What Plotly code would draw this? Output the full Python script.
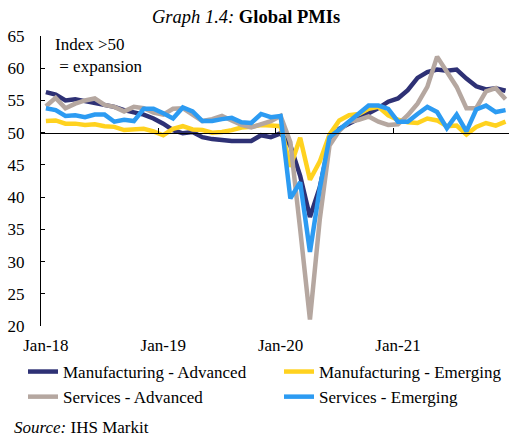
import plotly.graph_objects as go

years = ["18", "19", "20", "21"]
month_names = ["Jan", "Feb", "Mar", "Apr", "May", "Jun", "Jul", "Aug", "Sep", "Oct", "Nov", "Dec"]
months = [f"{m}-{y}" for y in years for m in month_names]
tick_labels = ["Jan-18", "Jan-19", "Jan-20", "Jan-21"]
y_ticks = [20, 25, 30, 35, 40, 45, 50, 55, 60, 65]
year_boundaries = [11.5, 23.5, 35.5]

manuf_adv = [56.3, 55.9, 55.0, 55.2, 54.9, 54.6, 54.3, 54.0, 53.5, 53.2, 52.8, 52.2,
             51.4, 50.4, 49.9, 50.1, 49.3, 49.0, 48.8, 48.7, 48.7, 48.7, 49.6, 49.3,
             49.9, 48.0, 43.3, 36.9, 41.5, 48.5, 50.6, 51.5, 52.2, 53.0, 53.8, 54.8,
             55.3, 56.6, 58.5, 59.4, 59.8, 59.6, 59.8, 58.4, 57.2, 56.7, 56.9, 56.5]
manuf_em = [51.8, 51.9, 51.4, 51.4, 51.2, 51.3, 51.0, 50.9, 50.4, 50.5, 50.6, 50.2,
            49.6, 50.6, 51.0, 50.5, 50.4, 50.0, 50.1, 50.4, 50.8, 50.9, 51.2, 51.1,
            51.0, 44.7, 49.2, 42.7, 45.5, 49.7, 51.9, 52.7, 52.9, 53.7, 54.0, 52.7,
            52.0, 51.6, 51.5, 52.2, 51.9, 51.0, 51.1, 49.7, 50.9, 51.5, 51.1, 51.7]
serv_adv = [54.1, 55.4, 53.8, 54.5, 55.0, 55.3, 54.3, 54.0, 53.3, 54.0, 53.8, 53.1,
            52.8, 53.7, 53.8, 52.7, 51.8, 52.1, 52.6, 51.9, 51.2, 50.8, 51.3, 51.8,
            52.6, 48.5, 35.0, 21.0, 36.5, 48.0, 50.3, 51.7, 52.0, 52.5, 51.7, 51.2,
            51.3, 52.7, 54.5, 57.1, 61.8, 59.4, 57.1, 53.8, 53.8, 56.4, 56.9, 55.2]
serv_em = [53.8, 53.5, 52.6, 52.7, 52.4, 52.8, 52.8, 51.7, 52.0, 51.8, 53.7, 53.7,
           53.0, 52.2, 53.9, 53.3, 51.8, 51.8, 52.1, 52.3, 51.6, 51.5, 52.9, 52.4,
           52.6, 39.8, 42.3, 31.5, 41.3, 49.3, 50.5, 51.7, 53.1, 54.2, 54.2, 53.7,
           51.7, 51.7, 52.9, 54.0, 53.2, 50.7, 52.8, 50.2, 53.6, 54.2, 53.2, 53.5]

# (name, values, colour, legend column)
series = [
    ("Manufacturing - Advanced", manuf_adv, "#2E3175", "legend"),
    ("Manufacturing - Emerging", manuf_em, "#FFD21F", "legend2"),
    ("Services - Advanced", serv_adv, "#B5A7A0", "legend"),
    ("Services - Emerging", serv_em, "#2C9BF2", "legend2"),
]

FONT = "Liberation Serif"
FS = 17
W, H = 509, 436
ML, MR, MT, MB = 41, 0, 36, 110
pw = W - ML - MR
ph = H - MT - MB

def px_x(px):
    return (px - ML) / pw

def px_y(py):
    return (H - MB - py) / ph

fig = go.Figure()
for i, (name, vals, color, leg) in enumerate(series):
    fig.add_trace(go.Scatter(x=months, y=vals, name=name, mode="lines", legend=leg,
                             legendgroup=f"g{i}",
                             line=dict(color=color, width=4.5), hoverinfo="x+y+name"))

# helper axis drawing the 50-crossing horizontal axis with year ticks
fig.add_trace(go.Scatter(x=[None], y=[None], xaxis="x2", showlegend=False, hoverinfo="skip"))

x_end = -0.5 + (W - ML - MR) / 9.78
leg_common = dict(orientation="v", xanchor="left", yanchor="top", y=px_y(354),
                  font=dict(size=FS), bgcolor="rgba(0,0,0,0)", borderwidth=0,
                  tracegroupgap=6, traceorder="normal")

fig.update_layout(
    template="none",
    width=W, height=H,
    margin=dict(l=ML, r=MR, t=MT, b=MB, pad=0),
    paper_bgcolor="white", plot_bgcolor="white",
    font=dict(family=FONT, size=FS, color="black"),
    showlegend=True,
    legend=dict(x=px_x(23), **leg_common),
    legend2=dict(x=px_x(279), **leg_common),
    xaxis=dict(type="category", range=[-0.5, x_end], automargin=False,
               tickmode="array", tickvals=tick_labels, ticktext=tick_labels,
               showline=False, showgrid=False, zeroline=False, ticks="",
               ticklabelstandoff=7, tickfont=dict(size=FS)),
    xaxis2=dict(type="linear", overlaying="x", anchor="free", position=(50 - 20) / 45,
                side="top", range=[-0.5, x_end], automargin=False,
                showline=True, linecolor="black", linewidth=1,
                tickmode="array", tickvals=year_boundaries, ticks="outside", ticklen=5,
                tickcolor="black", tickwidth=1, showticklabels=False,
                showgrid=False, zeroline=False),
    yaxis=dict(range=[20, 65], tickmode="array", tickvals=y_ticks, automargin=False,
               showline=True, linecolor="black", linewidth=1,
               ticks="inside", ticklen=4, tickcolor="black", tickwidth=1,
               showgrid=False, zeroline=False, ticklabelstandoff=12,
               tickfont=dict(size=FS)),
    annotations=[
        dict(text="<i>Graph 1.4:</i> <b>Global PMIs</b>", xref="paper", yref="paper",
             x=px_x(246), y=px_y(17), xanchor="center", yanchor="middle",
             showarrow=False, font=dict(size=18.5)),
        dict(text="Index >50<br> = expansion", xref="paper", yref="paper",
             x=px_x(53), y=px_y(33), xanchor="left", yanchor="top", align="left",
             showarrow=False, font=dict(size=FS)),
        dict(text="<i>Source:</i> IHS Markit", xref="paper", yref="paper",
             x=px_x(12), y=px_y(427), xanchor="left", yanchor="middle",
             showarrow=False, font=dict(size=FS)),
    ],
)

fig.write_html("out.html", config={"displayModeBar": False},
               post_script="document.body.style.margin='0';document.body.style.overflow='hidden';")
